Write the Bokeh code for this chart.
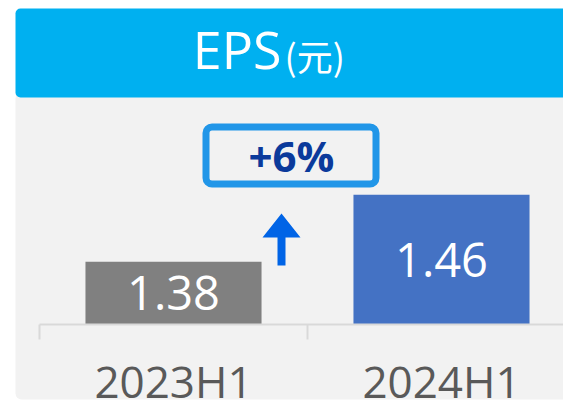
from bokeh.plotting import figure
from bokeh.models import Range1d, FixedTicker, BoxAnnotation, Label
from bokeh.core.properties import value
from bokeh.embed import file_html
from bokeh.resources import INLINE

# ---- data ----
categories = ["2023H1", "2024H1"]
eps = [1.38, 1.46]
bar_colors = ["#808080", "#4472C4"]
value_labels = [f"{v:.2f}" for v in eps]
title_main = "EPS"
title_unit = "(元)"
growth_pct = round((eps[1] / eps[0] - 1) * 100)
growth_label = f"+{growth_pct}%"

# ---- geometry (page pixels) ----
W, H = 563, 402
PAGE = 0
AXIS_PX = 324
BAND_LEFT = 39
BAND_W = 268
PX_PER_UNIT = 837.5
Y_BASE = 1.305


def ux(px):
    return (px - BAND_LEFT) / BAND_W + 0.5


def vy(py):
    return Y_BASE + (AXIS_PX - py) / PX_PER_UNIT


p = figure(width=W, height=H, output_backend="svg", toolbar_location=None, tools="",
           x_range=Range1d(ux(PAGE), ux(PAGE + W)),
           y_range=Range1d(vy(PAGE + H), vy(PAGE)),
           x_axis_location="below", y_axis_location=None,
           min_border=0, min_border_left=0, min_border_right=0,
           min_border_top=0, min_border_bottom=0,
           background_fill_color="white", border_fill_color="white",
           outline_line_color=None)
p.grid.grid_line_color = None

# background panels
panel = BoxAnnotation(left=ux(15), right=ux(600), top=vy(92), bottom=vy(399),
                      fill_color="#F2F2F2", fill_alpha=1, line_color=None,
                      border_radius=6, level="underlay")
header = BoxAnnotation(left=ux(15), right=ux(600), top=vy(8), bottom=vy(97),
                       fill_color="#00B0F0", fill_alpha=1, line_color=None,
                       border_radius=5, level="underlay")
p.add_layout(panel)
p.add_layout(header)

# bars
xs = [i + 1 for i in range(len(categories))]
p.vbar(x=xs, width=0.657, top=eps, bottom=Y_BASE, fill_color=bar_colors,
       line_color=None)
p.text(x=xs, y=[(Y_BASE + v) / 2 for v in eps], text=value_labels,
       text_font=value("Open Sans"), text_font_size="47px", text_color="white",
       text_align="center", text_baseline="middle", y_offset=0)

# axis
ax = p.xaxis[0]
ax.ticker = FixedTicker(ticks=xs, minor_ticks=[x - 0.5 for x in xs] + [xs[-1] + 0.5])
ax.major_label_overrides = {x: c for x, c in zip(xs, categories)}
ax.major_tick_line_color = None
ax.major_tick_out = 0
ax.major_tick_in = 0
ax.minor_tick_line_color = "#D9D9D9"
ax.minor_tick_line_width = 2
ax.minor_tick_out = 15
ax.minor_tick_in = 0
ax.axis_line_color = "#D9D9D9"
ax.axis_line_width = 2
ax.bounds = (xs[0] - 0.5, xs[-1] + 0.5)
ax.major_label_text_font = "Open Sans"
ax.major_label_text_font_size = "44px"
ax.major_label_text_color = "#595959"
ax.major_label_standoff = 11
ax.fixed_location = Y_BASE

# header title
p.add_layout(Label(x=ux(281), y=vy(48), text=title_main, text_font="Open Sans",
                   text_font_size="52px", text_color="white", text_align="right",
                   text_baseline="alphabetic"))
p.add_layout(Label(x=ux(284), y=vy(54.5), text=title_unit, text_font="Noto Sans CJK TC",
                   text_font_size="36px", text_color="white", text_align="left",
                   text_baseline="alphabetic"))

# growth box
p.add_layout(BoxAnnotation(left=ux(205.5), right=ux(375.5), top=vy(126.5), bottom=vy(183.5),
                           fill_alpha=0, line_color="#2196E8", line_alpha=1, line_width=7,
                           border_radius=6))
p.add_layout(Label(x=ux(291), y=vy(155), text=growth_label, text_font="Open Sans",
                   text_font_style="bold", text_font_size="42px", text_color="#0B3A9B",
                   text_align="center", text_baseline="middle"))

# up arrow
arrow_px = [(277, 265), (277, 237), (262, 237), (281, 213), (300, 237), (285, 237), (285, 265)]
p.patch(x=[ux(a) for a, b in arrow_px], y=[vy(b) for a, b in arrow_px],
        fill_color="#0064E6", line_color=None)

open("out.html", "w").write(file_html(p, INLINE))
